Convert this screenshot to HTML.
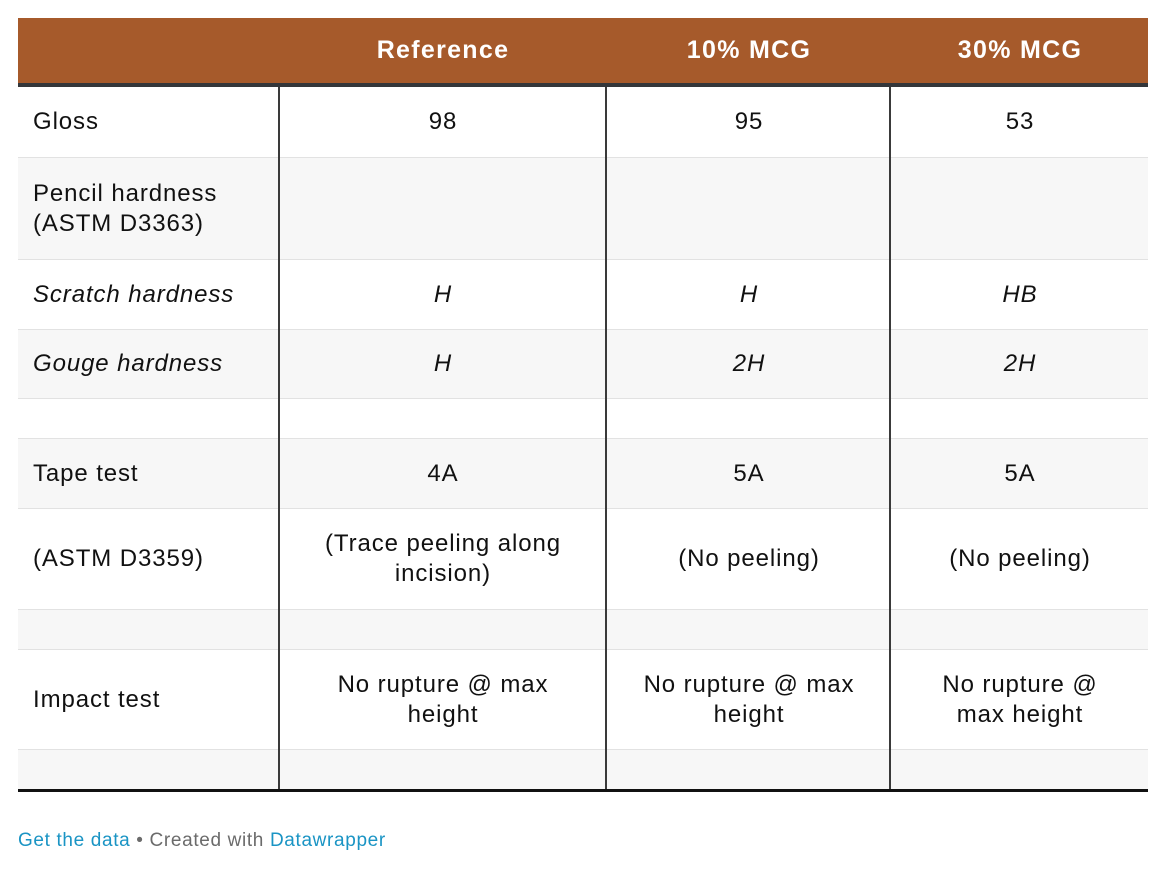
<!DOCTYPE html>
<html><head><meta charset="utf-8"><style>
body{margin:0;width:1170px;height:878px;background:#fff;font-family:"Liberation Sans",Arial,sans-serif;position:relative;overflow:hidden}
.r{position:absolute;left:18px;width:1130px;border-top:1px solid #e2e2e2;box-sizing:border-box}
.c{position:absolute;top:0;bottom:0;display:flex;align-items:center;justify-content:center;text-align:center;font-size:24px;line-height:30px;color:#111;letter-spacing:0.9px}
.c0{left:0;width:260px;justify-content:flex-start;text-align:left;padding-left:15px;box-sizing:border-box}
.c1{left:262px;width:326px}.c2{left:590px;width:282px}.c3{left:874px;width:256px}
.i{font-style:italic}
.v{position:absolute;top:87px;height:702px;width:2px;background:#3a3a3a}
.h{position:absolute;left:18px;top:18px;width:1130px;height:65px;background:#a65a2b}
.h div{position:absolute;top:0;height:65px;display:flex;align-items:center;justify-content:center;color:#fff;font-weight:bold;font-size:25px;letter-spacing:1.3px}
</style></head><body>
<div class="h"><div style="left:262px;width:326px">Reference</div><div style="left:590px;width:282px">10% MCG</div><div style="left:874px;width:256px">30% MCG</div></div>
<div style="position:absolute;left:18px;top:83px;width:1130px;height:4px;background:#33363a"></div>

<div class="r" style="top:87px;height:70px;background:#fff;border-top:none"><div class="c c0">Gloss</div><div class="c c1">98</div><div class="c c2">95</div><div class="c c3">53</div></div>
<div class="r" style="top:157px;height:102px;background:#f7f7f7"><div class="c c0">Pencil hardness<br>(ASTM D3363)</div></div>
<div class="r" style="top:259px;height:70px;background:#fff"><div class="c c0 i">Scratch hardness</div><div class="c c1 i">H</div><div class="c c2 i">H</div><div class="c c3 i">HB</div></div>
<div class="r" style="top:329px;height:69px;background:#f7f7f7"><div class="c c0 i">Gouge hardness</div><div class="c c1 i">H</div><div class="c c2 i">2H</div><div class="c c3 i">2H</div></div>
<div class="r" style="top:398px;height:40px;background:#fff"></div>
<div class="r" style="top:438px;height:70px;background:#f7f7f7"><div class="c c0">Tape test</div><div class="c c1">4A</div><div class="c c2">5A</div><div class="c c3">5A</div></div>
<div class="r" style="top:508px;height:101px;background:#fff"><div class="c c0">(ASTM D3359)</div><div class="c c1">(Trace peeling along<br>incision)</div><div class="c c2">(No peeling)</div><div class="c c3">(No peeling)</div></div>
<div class="r" style="top:609px;height:40px;background:#f7f7f7"></div>
<div class="r" style="top:649px;height:100px;background:#fff"><div class="c c0">Impact test</div><div class="c c1">No rupture @ max<br>height</div><div class="c c2">No rupture @ max<br>height</div><div class="c c3">No rupture @<br>max height</div></div>
<div class="r" style="top:749px;height:40px;background:#f7f7f7"></div>
<div style="position:absolute;left:18px;top:789px;width:1130px;height:3px;background:#111"></div>

<div class="v" style="left:278px"></div><div class="v" style="left:605px"></div><div class="v" style="left:889px"></div>

<div style="position:absolute;left:18px;top:829px;font-size:19px;line-height:24px;color:#6b6b6b;letter-spacing:0.65px"><span style="color:#1a94c4">Get the data</span> • Created with <span style="color:#1a94c4">Datawrapper</span></div>
</body></html>
